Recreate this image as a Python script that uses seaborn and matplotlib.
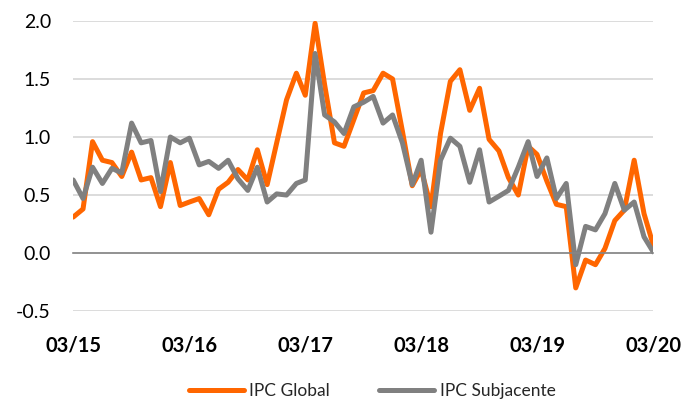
import numpy as np
import pandas as pd
import matplotlib.pyplot as plt
import matplotlib.dates as mdates
from matplotlib.ticker import FormatStrFormatter
import seaborn as sns

# Monthly data, 03/15 to 03/20
months = pd.date_range("2015-03-01", "2020-03-01", freq="MS")

ipc_global = [
    0.31, 0.38, 0.96, 0.80, 0.78, 0.66, 0.87, 0.63, 0.65, 0.40,
    0.78, 0.41, 0.44, 0.47, 0.33, 0.55, 0.61, 0.72, 0.63, 0.89,
    0.59, 0.95, 1.32, 1.55, 1.36, 1.98, 1.45, 0.95, 0.92, 1.15,
    1.38, 1.40, 1.55, 1.50, 1.05, 0.58, 0.72, 0.40, 1.03, 1.48,
    1.58, 1.23, 1.42, 0.98, 0.88, 0.65, 0.50, 0.92, 0.85, 0.62,
    0.42, 0.40, -0.30, -0.06, -0.10, 0.04, 0.28, 0.37, 0.80, 0.34,
    0.07,
]
ipc_subjacente = [
    0.63, 0.47, 0.74, 0.60, 0.73, 0.69, 1.12, 0.95, 0.97, 0.53,
    1.00, 0.95, 0.99, 0.76, 0.79, 0.73, 0.80, 0.64, 0.54, 0.74,
    0.44, 0.51, 0.50, 0.60, 0.63, 1.72, 1.19, 1.13, 1.03, 1.26,
    1.30, 1.35, 1.12, 1.19, 0.95, 0.59, 0.80, 0.18, 0.80, 0.99,
    0.92, 0.61, 0.89, 0.44, 0.49, 0.54, 0.74, 0.96, 0.66, 0.82,
    0.47, 0.60, -0.10, 0.23, 0.20, 0.34, 0.60, 0.37, 0.44, 0.14,
    0.01,
]
series_names = ["IPC Global", "IPC Subjacente"]
series_colors = ["#FF6600", "#808080"]
y_ticks = [-0.5, 0.0, 0.5, 1.0, 1.5, 2.0]

df = pd.DataFrame({
    "Mes": list(months) * 2,
    "Valor": ipc_global + ipc_subjacente,
    "Serie": [series_names[0]] * len(months) + [series_names[1]] * len(months),
})

sns.set_theme(style="white")
plt.rcParams["font.family"] = ["Lato", "DejaVu Sans"]

fig = plt.figure(figsize=(6.84, 4.03), dpi=100)
ax = fig.add_axes([0.107, 0.228, 0.848, 0.72])

sns.lineplot(data=df, x="Mes", y="Valor", hue="Serie", hue_order=series_names,
             palette=series_colors, linewidth=3.6, ax=ax)

ax.set_ylim(-0.5, 2.0)
ax.set_yticks(y_ticks)
ax.yaxis.set_major_formatter(FormatStrFormatter("%.1f"))
ax.set_xlim(months[0], months[-1])
ax.xaxis.set_major_locator(mdates.MonthLocator(bymonth=3))
ax.xaxis.set_major_formatter(mdates.DateFormatter("%m/%y"))
ax.set_xlabel("")
ax.set_ylabel("")

ax.grid(axis="y", color="#d9d9d9", linewidth=1.3)
ax.set_axisbelow(True)
for side in ["left", "right", "top"]:
    ax.spines[side].set_visible(False)
ax.spines["bottom"].set_position(("data", 0))
ax.spines["bottom"].set_color("#868686")
ax.spines["bottom"].set_linewidth(1.2)

ax.tick_params(axis="x", direction="in", length=6, width=1.2, color="#868686",
               pad=59, labelsize=14.5, labelcolor="black")
ax.tick_params(axis="y", length=0, pad=16, labelsize=14, labelcolor="black")
for lbl in ax.get_xticklabels():
    lbl.set_fontweight("bold")

handles, labels = ax.get_legend_handles_labels()
ax.get_legend().remove()
fig.legend(handles, labels, loc="center", bbox_to_anchor=(0.544, 0.03), ncol=2,
           frameon=False, fontsize=12.5, handlelength=3.2, handletextpad=0.3,
           columnspacing=2.8)

fig.savefig("out.png", dpi=100)
